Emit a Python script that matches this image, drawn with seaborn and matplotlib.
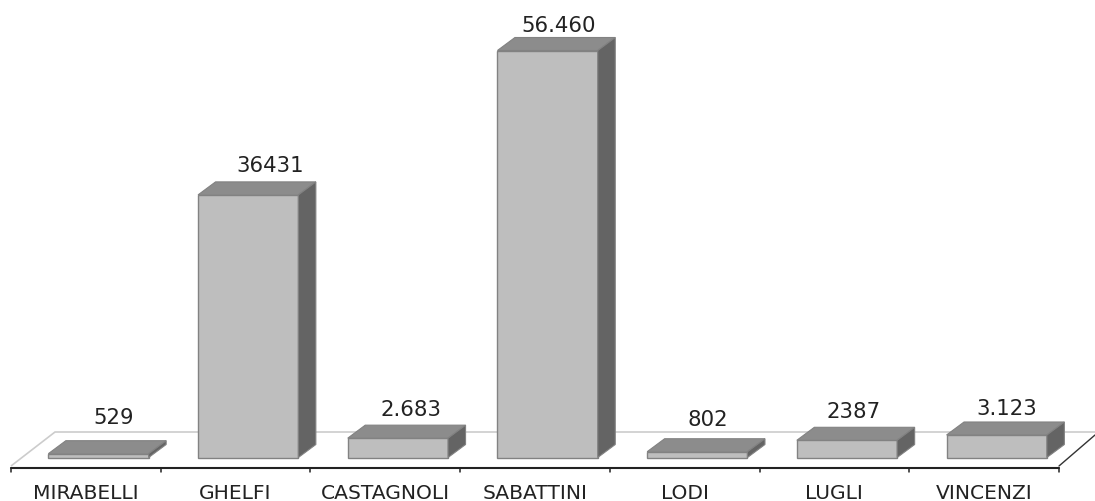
import pandas as pd
import seaborn as sns
import matplotlib.pyplot as plt
from matplotlib.patches import Polygon

names = ['MIRABELLI', 'GHELFI', 'CASTAGNOLI', 'SABATTINI', 'LODI', 'LUGLI', 'VINCENZI']
values = [529, 36431, 2683, 56460, 802, 2387, 3123]
value_labels = ['529', '36431', '2.683', '56.460', '802', '2387', '3.123']

W, H = 1095, 502
SLOT = 149.7        # px per category
FIRST_BAR = 98.5    # px centre of first bar
BASE = 458.5        # px of the value zero
PX_PER_UNIT = 407 / 56460
DEPTH_X, DEPTH_Y = 17.5 / SLOT, 13 / PX_PER_UNIT

FRONT, TOP, SIDE, EDGE = '#bebebe', '#8c8c8c', '#646464', '#828282'
TEXT = '#222222'


def px_x(p):
    return (p - FIRST_BAR) / SLOT


def px_y(p):
    return (BASE - p) / PX_PER_UNIT


df = pd.DataFrame({'name': names, 'value': values})

sns.set_theme(style='white')
plt.rcParams['font.family'] = ['DejaVu Sans']

fig = plt.figure(figsize=(W / 100, H / 100), dpi=100)
ax = fig.add_axes([0, 0, 1, 1])
sns.barplot(data=df, x='name', y='value', color=FRONT, saturation=1, width=0.67,
            edgecolor=EDGE, linewidth=1.0, zorder=3, ax=ax)

ax.set_xlim(px_x(0), px_x(W))
ax.set_ylim(px_y(H), px_y(0))
ax.set_xlabel('')
ax.set_ylabel('')
ax.set_yticks([])
sns.despine(ax=ax, left=True, bottom=True)

# floor of the 3d box
floor = [(11, 467), (55, 433), (1095, 433)]
ax.add_patch(Polygon([(px_x(a), px_y(b)) for a, b in floor], closed=False, fill=False,
                     edgecolor='#cccccc', linewidth=1.2, zorder=1))
ax.plot([px_x(1059), px_x(1095)], [px_y(467), px_y(436)], color='#333333', lw=1.0, zorder=2)

# axis line with ticks between categories, labels in the slot centre
left, right = px_x(11), px_x(1059)
ax.plot([left, right], [px_y(468.5)] * 2, color='#222222', lw=1.5, zorder=2)
for i in range(len(names) + 1):
    t = left + i * (right - left) / len(names)
    ax.plot([t, t], [px_y(468.5), px_y(473)], color='#222222', lw=1.1, zorder=2)
ax.tick_params(axis='x', length=0, pad=0)
ax.set_xticks([left + (i + 0.5) * (right - left) / len(names) for i in range(len(names))])
ax.set_xticklabels([])
for i, name in enumerate(names):
    ax.text(left + (i + 0.5) * (right - left) / len(names), px_y(494), name,
            ha='center', va='center', fontsize=14.6, color=TEXT)

# top and side faces from each bar, value on top
lifts = [37, 30, 29, 25, 33, 29, 27]
nudges = [15, 22, 13, 11, 11, 7, 10]
for bar, label, lift, nudge in zip(ax.patches, value_labels, lifts, nudges):
    x0, x1 = bar.get_x(), bar.get_x() + bar.get_width()
    h = bar.get_height()
    ax.add_patch(Polygon([(x0, h), (x1, h), (x1 + DEPTH_X, h + DEPTH_Y), (x0 + DEPTH_X, h + DEPTH_Y)],
                         facecolor=TOP, edgecolor=EDGE, linewidth=0.8, zorder=3))
    ax.add_patch(Polygon([(x1, 0), (x1 + DEPTH_X, DEPTH_Y), (x1 + DEPTH_X, h + DEPTH_Y), (x1, h)],
                         facecolor=SIDE, edgecolor=EDGE, linewidth=0.8, zorder=3))
    ax.text(bar.get_x() + bar.get_width() / 2 + nudge / SLOT, h + lift / PX_PER_UNIT, label,
            ha='center', va='center', fontsize=15.3, color=TEXT, zorder=4)

fig.savefig('out.png', dpi=100, facecolor='white')
